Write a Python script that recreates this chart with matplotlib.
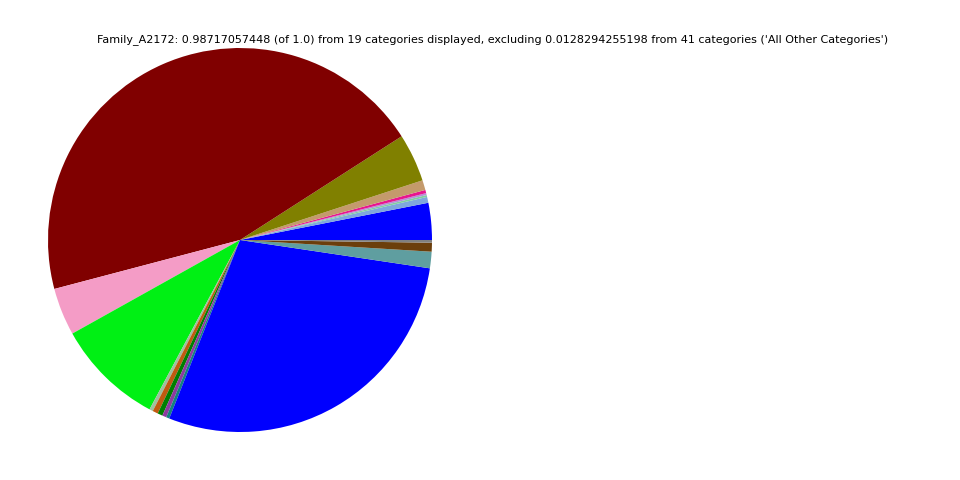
import matplotlib
matplotlib.use('Agg')
from matplotlib import pyplot as plt

# slice values, counterclockwise from 0 degrees
values = [0.0307, 0.0049, 0.0016, 0.0016, 0.0027, 0.0082, 0.0400, 0.4448,
          0.0395, 0.0898, 0.0030, 0.0045, 0.0042, 0.0034, 0.0027, 0.2830,
          0.0137, 0.0074, 0.0022]
colors = ['#0000ff', '#7fa7dd', '#7fcf9f', '#b58fd8', '#e8158f', '#c49a6c',
          '#808000', '#800000', '#f49cc6', '#00f014', '#9fbf9f', '#c05a10',
          '#007f00', '#8e3aa0', '#14807f', '#0000ff', '#5f9ea0', '#6b3e0b',
          '#808080']
title = ("Family_A2172: 0.98717057448 (of 1.0) from 19 categories displayed, "
         "excluding 0.0128294255198 from 41 categories ('All Other Categories')")

fig = plt.figure(figsize=(9.6, 4.8), dpi=100)
ax = fig.add_axes([0, 0, 1, 1])
ax.pie(values, colors=colors, startangle=0, normalize=True)
ax.set_aspect('equal')
ax.set_anchor('W')
fig.text(493 / 960, 1 - 40 / 480, title, ha='center', va='center', fontsize=8)

fig.savefig('out.png', dpi=100)
